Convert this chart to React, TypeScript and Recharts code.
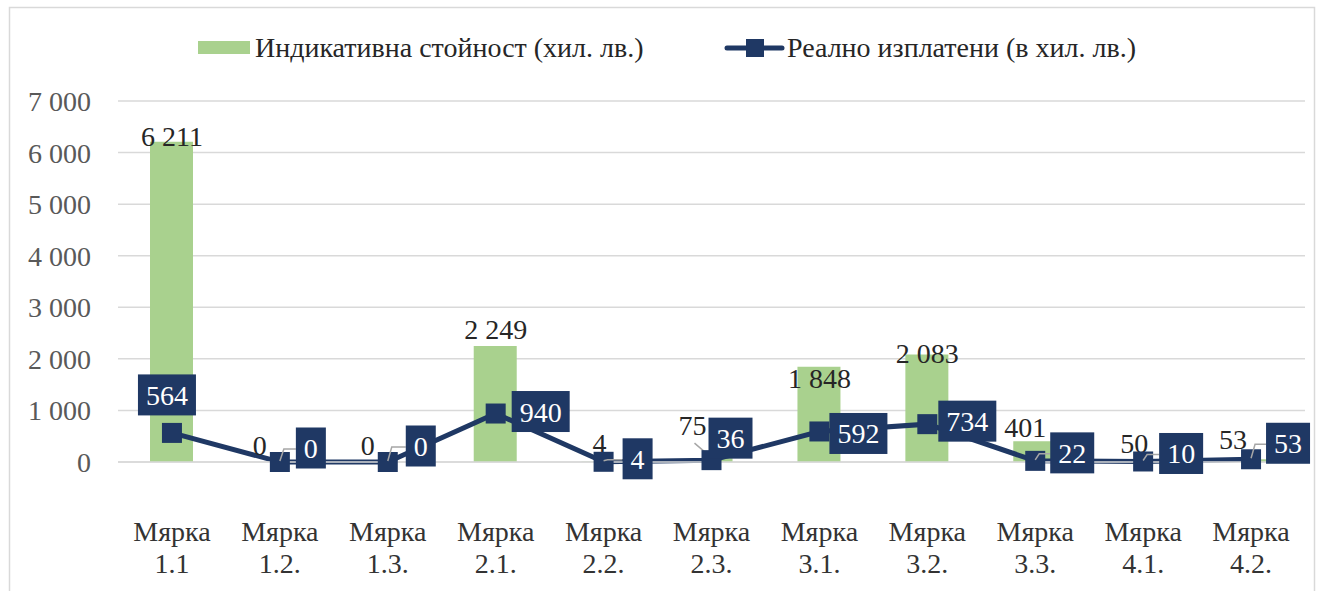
import React from "react";
import { ComposedChart, Bar, Line, XAxis, YAxis, CartesianGrid } from "recharts";

const categories = [
  "Мярка 1.1", "Мярка 1.2.", "Мярка 1.3.", "Мярка 2.1.", "Мярка 2.2.", "Мярка 2.3.",
  "Мярка 3.1.", "Мярка 3.2.", "Мярка 3.3.", "Мярка 4.1.", "Мярка 4.2.",
];
const indicative = [6211, 0, 0, 2249, 4, 75, 1848, 2083, 401, 50, 53];
const paid = [564, 0, 0, 940, 4, 36, 592, 734, 22, 10, 53];
const yTicks = [0, 1000, 2000, 3000, 4000, 5000, 6000, 7000];
const seriesNames = ["Индикативна стойност (хил. лв.)", "Реално изплатени (в хил. лв.)"];

// label placement (layout only)
const barLabelOffsets = [
  [0, -6], [-20, -17], [-20, -17], [0, -17], [-4, -19], [-19, -33],
  [0, 11], [0, -2], [-10, -14], [-9, -16], [-18, -20],
];
const lineLabelOffsets = [
  [-5, -38], [31, -14], [33, -16], [45, -2], [34, -3], [19, -22],
  [39, 2], [40, -3], [37, -8], [38, -8], [37, -16],
];
const lineLabelLeader = [false, true, true, false, true, false, false, false, true, true, true];
const barLabelLeader = [false, false, false, false, false, true, false, false, false, false, false];

const FONT = "Liberation Serif, Tinos, Times New Roman, DejaVu Serif, serif";
const GREEN = "#a9d18e";
const NAVY = "#1f3864";

const fmt = (v: number) => String(v).replace(/\B(?=(\d{3})+(?!\d))/g, " ");

const data = categories.map((c, i) => ({ name: c, indicative: indicative[i], paid: paid[i] }));

const tStyle = { fontFamily: FONT };

const renderBarLabel = (p: any) => {
  const { cx, cy, index, value } = p;
  if (cx == null || cy == null) return <g key={`bl-${index}`} />;
  const [dx, dy] = barLabelOffsets[index];
  const tx = cx + dx;
  const ty = cy + dy;
  return (
    <g key={`bl-${index}`}>
      {barLabelLeader[index] && (
        <line x1={tx + 2} y1={ty + 18} x2={tx + 16} y2={ty + 30} stroke="#a6a6a6" strokeWidth={1.5} />
      )}
      <text x={tx} y={ty + 10} textAnchor="middle" fontSize={28} fill="#262626" style={tStyle}>
        {fmt(value)}
      </text>
    </g>
  );
};

const renderPaidDot = (p: any) => {
  const { cx, cy, index, value } = p;
  if (cx == null || cy == null) return <g key={`pd-${index}`} />;
  const [dx, dy] = lineLabelOffsets[index];
  const label = fmt(value);
  const w = label.length * 14 + 16;
  const h = 41;
  const bx = cx + dx;
  const by = cy + dy;
  const left = bx - w / 2;
  return (
    <g key={`pd-${index}`}>
      <rect x={cx - 10} y={cy - 10} width={20} height={20} fill={NAVY} />
      {lineLabelLeader[index] && (
        <polyline
          points={`${cx},${cy - 1} ${cx + 4},${by + 1} ${left},${by + 1}`}
          fill="none"
          stroke="#a6a6a6"
          strokeWidth={1.5}
        />
      )}
      <rect x={left} y={by - h / 2} width={w} height={h} fill={NAVY} />
      <text x={bx} y={by + 10} textAnchor="middle" fontSize={28} fill="#ffffff" style={tStyle}>
        {label}
      </text>
    </g>
  );
};

const XTick = (p: any) => {
  const { x, y, payload } = p;
  const parts = String(payload.value).split(" ");
  return (
    <g>
      <text x={x} y={y + 79} textAnchor="middle" fontSize={28} fill="#333333" style={tStyle}>
        {parts[0]}
      </text>
      <text x={x} y={y + 111} textAnchor="middle" fontSize={28} fill="#333333" style={tStyle}>
        {parts[1]}
      </text>
    </g>
  );
};

export default function App() {
  return (
    <div style={{ position: "absolute", left: 0, top: 0, width: 1322, height: 591, fontFamily: FONT, background: "#fff", overflow: "hidden" }}>
      <svg width={1322} height={591} style={{ position: "absolute", left: 0, top: 0 }}>
        <rect x={9.5} y={7.5} width={1305} height={640} fill="none" stroke="#d9d9d9" strokeWidth={1.5} />
      </svg>
      <div style={{ position: "absolute", left: 0, top: 0 }}>
        <ComposedChart
          width={1322}
          height={591}
          data={data}
          margin={{ top: 101, right: 17, bottom: 69, left: 18 }}
          style={{ fontFamily: FONT }}
        >
          <CartesianGrid vertical={false} stroke="#d9d9d9" strokeWidth={1.5} />
          <XAxis
            dataKey="name"
            interval={0}
            height={60}
            tickSize={0}
            tickMargin={0}
            tickLine={false}
            axisLine={{ stroke: "#d9d9d9", strokeWidth: 1.5 }}
            tick={<XTick />}
          />
          <YAxis
            width={100}
            domain={[0, 7000]}
            ticks={yTicks}
            interval={0}
            tickFormatter={fmt}
            tickSize={0}
            tickMargin={27}
            axisLine={false}
            tickLine={false}
            tick={{ fill: "#595959", fontSize: 28, style: { fontFamily: FONT } }}
          />
          <Bar dataKey="indicative" name={seriesNames[0]} fill={GREEN} barSize={43} isAnimationActive={false} />
          <Line
            dataKey="indicative"
            stroke="none"
            dot={renderBarLabel}
            activeDot={false}
            legendType="none"
            isAnimationActive={false}
          />
          <Line
            dataKey="paid"
            name={seriesNames[1]}
            type="linear"
            stroke={NAVY}
            strokeWidth={5}
            dot={renderPaidDot}
            activeDot={false}
            isAnimationActive={false}
          />
        </ComposedChart>
      </div>
      <svg width={1322} height={100} style={{ position: "absolute", left: 0, top: 0, pointerEvents: "none" }}>
        <rect x={198} y={41} width={52} height={13} fill={GREEN} />
        <text x={255} y={57} fontSize={28} fill="#262626" style={tStyle}>
          {seriesNames[0]}
        </text>
        <line x1={727} y1={48} x2={782} y2={48} stroke={NAVY} strokeWidth={5} strokeLinecap="round" />
        <rect x={746} y={39} width={18} height={18} fill={NAVY} />
        <text x={787} y={57} fontSize={28} fill="#262626" style={tStyle}>
          {seriesNames[1]}
        </text>
      </svg>
    </div>
  );
}
